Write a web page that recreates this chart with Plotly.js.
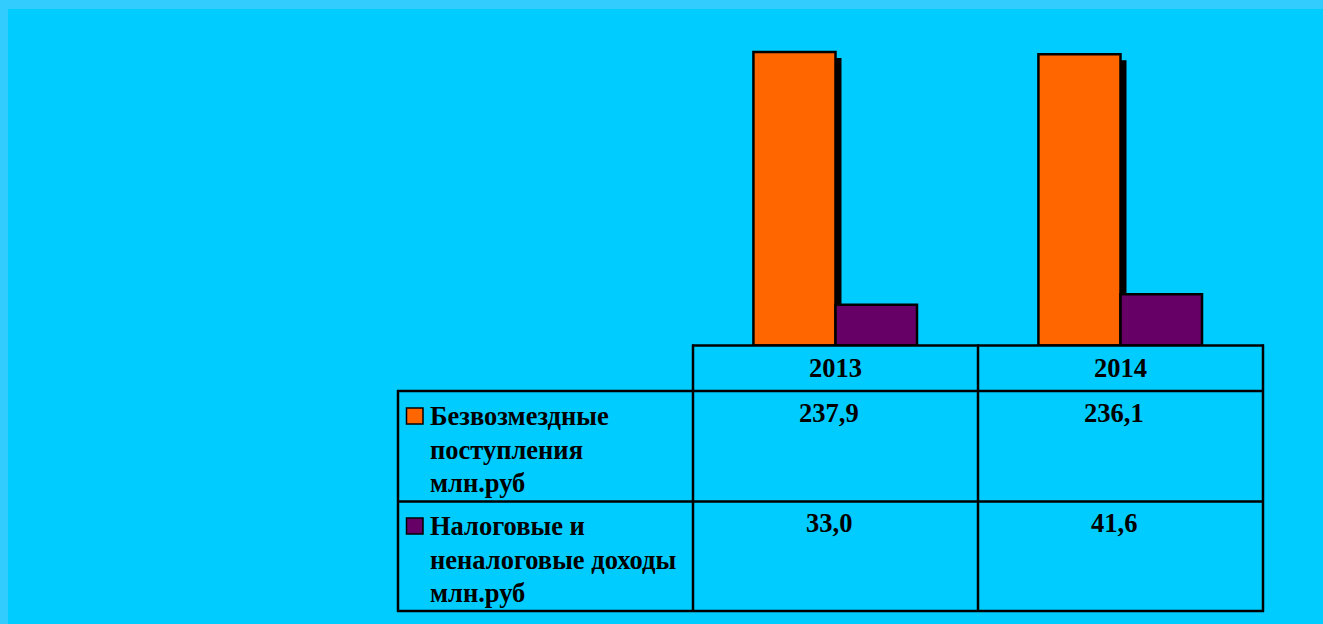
<!DOCTYPE html>
<html>
<head>
<meta charset="utf-8">
<script src="https://cdn.plot.ly/plotly-3.0.1.min.js"></script>
<style>html,body{margin:0;padding:0;background:#33CCFF;}#chart{width:1323px;height:624px;}</style>
</head>
<body>
<div id="chart"></div>
<script>
// ---- data ----
const years = ['2013', '2014'];
const seriesNames = ['Безвозмездные<br>поступления<br>млн.руб', 'Налоговые и<br>неналоговые доходы<br>млн.руб'];
const bezvozmezdnye = [237.9, 236.1];
const nalogovye = [33.0, 41.6];
const seriesColors = ['#FF6600', '#660066'];

// ---- layout helpers (pixels -> paper fractions) ----
const W = 1323, H = 624;
const px = x => x / W;
const py = y => 1 - y / H;
const FONT = 'Liberation Serif, Times New Roman, serif';
const FS = 26.5;
const half = 0.3375 * FS;

const shadowDx = 0.021, shadowDy = 4.9;

const traces = [
  { type: 'bar', x: years, y: bezvozmezdnye, base: -shadowDy, offset: -0.288 + shadowDx, width: 0.288,
    marker: { color: '#000000', line: { width: 0 } }, showlegend: false, hoverinfo: 'skip' },
  { type: 'bar', name: seriesNames[0], x: years, y: bezvozmezdnye, offset: -0.288, width: 0.288,
    marker: { color: seriesColors[0], line: { color: '#000', width: 2.5 } } },
  { type: 'bar', name: seriesNames[1], x: years, y: nalogovye, offset: 0.0, width: 0.286,
    marker: { color: seriesColors[1], line: { color: '#000', width: 2.5 } } }
];

const shapes = [];
const annotations = [];
// inner background
shapes.push({ type: 'rect', xref: 'paper', yref: 'paper', x0: px(8), x1: px(W), y0: py(H), y1: py(9),
  fillcolor: '#00CCFF', line: { width: 0 }, layer: 'below' });

function hline(y, x0, x1) {
  shapes.push({ type: 'line', xref: 'paper', yref: 'paper', x0: px(x0), x1: px(x1), y0: py(y), y1: py(y),
    line: { color: '#000', width: 2.5 } });
}
function vline(x, y0, y1) {
  shapes.push({ type: 'line', xref: 'paper', yref: 'paper', x0: px(x), x1: px(x), y0: py(y0), y1: py(y1),
    line: { color: '#000', width: 2.5 } });
}
const colEdges = [693, 978, 1263];
hline(345.5, 692, 1264);
hline(391, 397, 1264);
hline(501.5, 397, 1264);
hline(611, 397, 1264);
vline(398, 390, 612);
colEdges.forEach(x => vline(x, 344.5, 612));

function text(t, x, y, xanchor) {
  annotations.push({ xref: 'paper', yref: 'paper', x: px(x), y: py(y), xanchor: xanchor || 'center', yanchor: 'middle',
    text: '<b>' + t + '</b>', showarrow: false, borderpad: 0,
    font: { family: FONT, size: FS, color: '#000' } });
}
const fmt = v => v.toFixed(1).replace('.', ',');

// header
years.forEach((yr, i) => text(yr, (colEdges[i] + colEdges[i + 1]) / 2, 377 - half));
// values
const allSeries = [bezvozmezdnye, nalogovye];
const rowBaselines = [422, 532];
allSeries.forEach((vals, r) => {
  vals.forEach((v, i) => text(fmt(v), (colEdges[i] + colEdges[i + 1]) / 2 - 7, rowBaselines[r] - half));
});
// legend rows
const legendTop = [425, 535];
seriesNames.forEach((name, r) => {
  const lines = name.split('<br>');
  lines.forEach((ln, k) => text(ln, 429, legendTop[r] + k * 33.5 - half, 'left'));
  const dy = legendTop[r] - 425;
  shapes.push({ type: 'rect', xref: 'paper', yref: 'paper', x0: px(406.5), x1: px(423), y0: py(424 + dy), y1: py(408 + dy),
    fillcolor: seriesColors[r], line: { color: '#000', width: 1.5 } });
});

const layout = {
  width: W, height: H,
  margin: { l: 0, r: 0, t: 0, b: 0, pad: 0 },
  paper_bgcolor: '#33CCFF',
  plot_bgcolor: 'rgba(0,0,0,0)',
  barmode: 'overlay',
  showlegend: false,
  hovermode: false,
  xaxis: { domain: [px(693), px(1263)], range: [-0.5, 1.5], type: 'category',
    showticklabels: false, showgrid: false, zeroline: false, showline: false, ticks: '' },
  yaxis: { domain: [py(345.5), py(9)], range: [0, 272.8],
    showticklabels: false, showgrid: false, zeroline: false, showline: false, ticks: '' },
  shapes: shapes,
  annotations: annotations
};

Plotly.newPlot('chart', traces, layout, { displayModeBar: false, staticPlot: true });
</script>
</body>
</html>
